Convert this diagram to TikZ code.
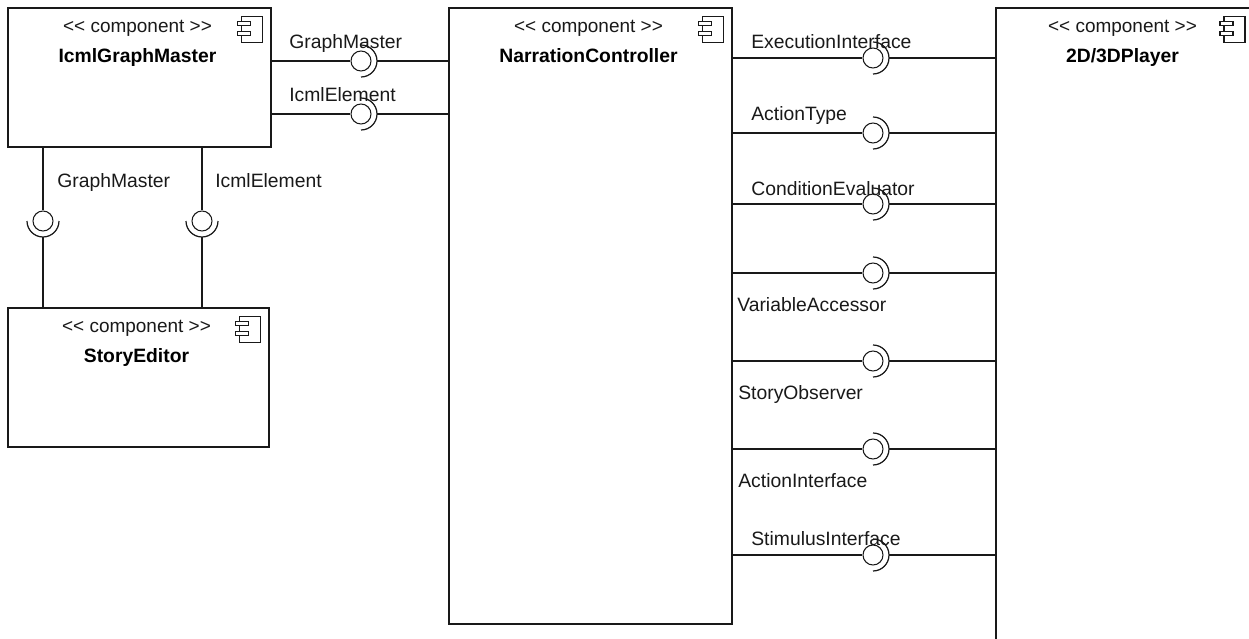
\documentclass[tikz,border=0pt]{standalone}
\usepackage{fontspec}
\setmainfont{Liberation Sans}
\definecolor{umlink}{RGB}{25,25,25}

\tikzset{
    compbox/.style n args={2}{draw=umlink,line width=1pt,minimum width=#1*0.02cm,minimum height=#2*0.02cm,inner sep=0pt},
    stereo/.style={text=umlink,font=\fontsize{10.8}{12}\selectfont,anchor=base,inner sep=0pt},
    compname/.style={text=black,font=\fontsize{11}{12}\bfseries\selectfont,anchor=base,inner sep=0pt},
    iface/.style={text=umlink,font=\fontsize{11}{12}\selectfont,anchor=base west,inner sep=0pt},
    ball/.style={draw=umlink,circle,line width=0.6pt,minimum size=0.4cm,inner sep=0pt},
    wire/.style={draw=umlink,line width=0.8pt},
    sock/.style={draw=umlink,line width=0.7pt},
}

% title lines and the small icon of one component
\newcommand{\comphead}[3]{
    \node[stereo] (#1st) at ([xshift=#3*0.02cm,yshift=-25*0.02cm]#1.north) {<{}< component >{}>};
    \node[compname] (#1nm) at ([xshift=#3*0.02cm,yshift=-55*0.02cm]#1.north) {#2};
    \begin{scope}[shift={(#1.north east)}]
        \draw[sock,fill=white] (-30,9) rectangle (-9,35);
        \draw[sock,fill=white] (-34,14) rectangle (-21,18);
        \draw[sock,fill=white] (-34,24) rectangle (-21,28);
    \end{scope}
}

\begin{document}
\begin{tikzpicture}[x=0.02cm,y=-0.02cm,line cap=butt,line join=miter]
    \clip (0,0) rectangle (1249,639);

    \node[compbox={263}{139}] (master) at (139.5,77.5) {};
    \node[compbox={261}{139}] (editor) at (138.5,377.5) {};
    \node[compbox={283}{616}] (ctrl) at (590.5,316) {};
    \node[compbox={257}{700}] (player) at (1124.5,358) {};

    \comphead{master}{IcmlGraphMaster}{-2}
    \comphead{editor}{StoryEditor}{-2}
    \comphead{ctrl}{NarrationController}{-2}
    \comphead{player}{2D/3DPlayer}{-2}

    % horizontal interfaces
    \foreach \id/\src/\dst/\x/\y in {gm/master/ctrl/361/61,ie/master/ctrl/361/114,
            ex/ctrl/player/873/58,at/ctrl/player/873/133,ce/ctrl/player/873/204,va/ctrl/player/873/273,
            so/ctrl/player/873/361,ai/ctrl/player/873/449,si/ctrl/player/873/555} {
        \node[ball] (ball\id) at (\x,\y) {};
        \coordinate (top\id) at (\x,\y-16);
        \coordinate (out\id) at (\x+16,\y);
        \draw[sock] (top\id) arc[start angle=90,end angle=-90,radius=0.32cm];
        \draw[wire] (\src.east |- ball\id) -- (ball\id);
        \draw[wire] (out\id) -- (\dst.west |- ball\id);
    }

    % vertical interfaces
    \foreach \id/\x in {vg/43,vi/202} {
        \node[ball] (ball\id) at (\x,221) {};
        \coordinate (lft\id) at (\x-16,221);
        \coordinate (out\id) at (\x,237);
        \draw[sock] (lft\id) arc[start angle=180,end angle=360,radius=0.32cm];
        \draw[wire] (master.south -| ball\id) -- (ball\id);
        \draw[wire] (out\id) -- (editor.north -| ball\id);
    }

    \node[iface] (lblgm) at (289,49) {GraphMaster};
    \node[iface] (lblie) at (289,101) {IcmlElement};
    \node[iface] (lblvg) at (57,187) {GraphMaster};
    \node[iface] (lblvi) at (215,187) {IcmlElement};
    \node[iface] (lblex) at (751,49) {ExecutionInterface};
    \node[iface] (lblat) at (751,120) {ActionType};
    \node[iface] (lblce) at (751,195) {ConditionEvaluator};
    \node[iface] (lblva) at (737,311) {VariableAccessor};
    \node[iface] (lblso) at (738,399) {StoryObserver};
    \node[iface] (lblai) at (738,487) {ActionInterface};
    \node[iface] (lblsi) at (751,545) {StimulusInterface};
\end{tikzpicture}
\end{document}
